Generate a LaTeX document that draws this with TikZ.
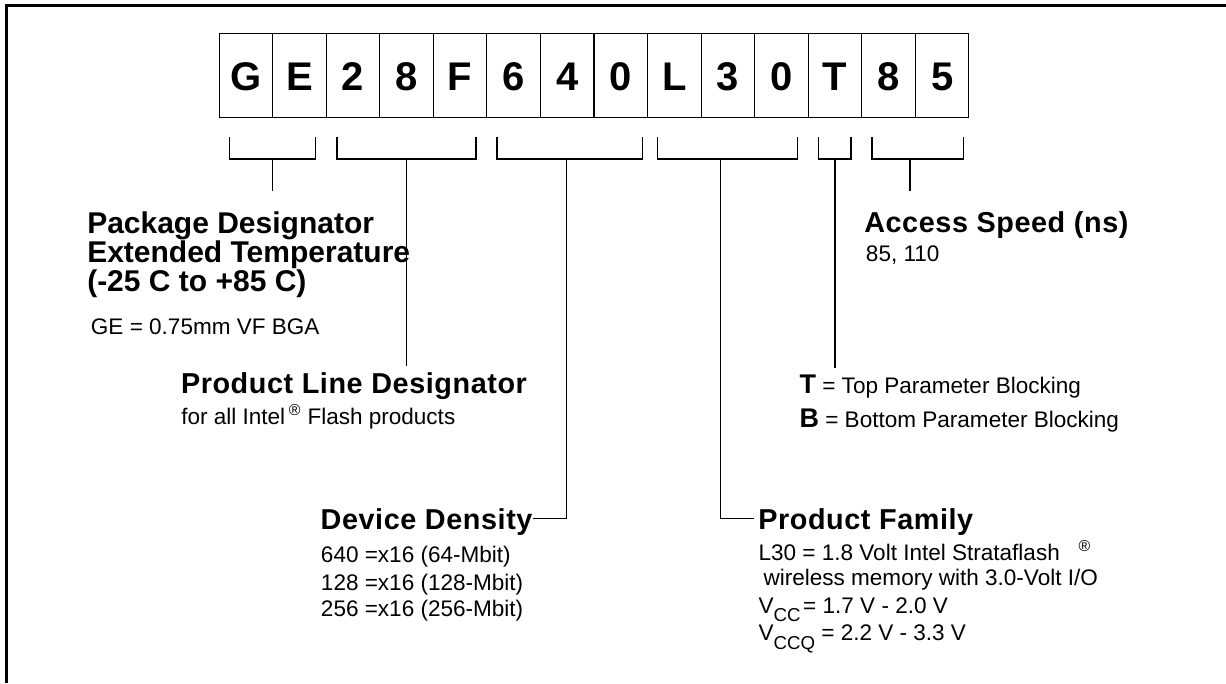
\documentclass[tikz,border=0pt]{standalone}
\usepackage{fontspec}
\setmainfont{Liberation Sans}
\usepackage{tikz}

\newcommand\bigfont{\fontsize{22.5}{24}\selectfont\bfseries}
\newcommand\headfont{\fontsize{21.6}{24}\selectfont\bfseries\addfontfeature{LetterSpace=2}}
\newcommand\subfont{\fontsize{16.9}{20}\selectfont}
\newcommand\keyfont{\fontsize{20.25}{24}\selectfont\bfseries}
\newcommand\lowsub[1]{\raisebox{-6.3pt}{\fontsize{14}{14}\selectfont #1}}

\begin{document}
\begin{tikzpicture}[x=0.75pt,y=-0.75pt,
  cell/.style={draw,line width=0.75pt,minimum width=40.18pt,minimum height=63pt,inner sep=0pt,
    text height=23.1pt,text depth=0pt,font=\fontsize{30}{32}\selectfont\bfseries},
  brk/.style={line width=1pt},
  head/.style={anchor=base west,inner sep=0pt,outer xsep=0pt,outer ysep=5pt,text depth=0pt,font=\headfont},
  big/.style={anchor=base west,inner sep=0pt,font=\bigfont},
  sub/.style={anchor=base west,inner sep=0pt,font=\subfont}]
  \useasboundingbox (0,0) rectangle (1226,683);
  \draw[line width=1.7pt] (6.5,683) -- (6.5,5.5) -- (1226,5.5);
  % part number cells
  \foreach \l [count=\i] in {G,E,2,8,F,6,4,0,L,3,0,T,8,5}{
    \node[cell] (c\i) at ({219+53.57*(\i-0.5)},75.3) {\l};}
  % brackets under the fields
  \foreach \a/\b/\m/\n in {229.7/315.7/272.7/pk,337/476/406.7/pl,497/642.7/566.7/dd,
      657.7/797.7/720.3/pf,818.7/851/835/tb,872/963.3/910/as}{
    \draw[brk] (\a,137.3) -- (\a,159) -- (\b,159) -- (\b,137.3);
    \coordinate (\n) at (\m,159);}
  \coordinate (pkend) at (272.7,190.7);
  \coordinate (asend) at (910,190.7);

  \foreach \yy/\t [count=\i] in {233.3/Package Designator,262.3/Extended Temperature,291.7/(-25 C to +85 C)}{
    \node[big] (pk\i) at (87,\yy) {\t};}
  \node[sub] (ge) at (90.7,334) {GE = 0.75mm VF BGA};

  \node[head] (pline) at (181,393.3) {Product Line Designator};
  \node[sub] (intel) at (181,424) {for all Intel\,\textsuperscript{\textregistered} Flash products};

  \node[head] (dens) at (320.7,529) {Device Density};
  \foreach \yy/\t [count=\i] in {562.3/640 =x16 (64-Mbit),590/128 =x16 (128-Mbit),616.7/256 =x16 (256-Mbit)}{
    \node[sub] (den\i) at (320.7,\yy) {\t};}

  \node[head] (fam) at (758.3,529) {Product Family};
  \node[sub] (l30) at (758.3,560) {L30 = 1.8 Volt Intel Strataflash\hspace{14pt}\textsuperscript{\textregistered}};
  \node[sub] (wless) at (763.3,585) {wireless memory with 3.0-Volt I/O};
  \node[sub] (vcc) at (758.3,613.3) {V\lowsub{CC}\hspace{2pt}= 1.7 V - 2.0 V};
  \node[sub] (vccq) at (758.3,640.7) {V\lowsub{CCQ} = 2.2 V - 3.3 V};

  \node[sub,outer ysep=5pt] (tline) at (799.3,393.3) {{\keyfont T} = Top Parameter Blocking};
  \node[sub] (bline) at (799.3,427) {{\keyfont B} = Bottom Parameter Blocking};

  \node[head] (speed) at (864.3,232.3) {Access Speed (ns)};
  \node[sub] (spval) at (865.7,261.7) {85, 110};

  % leaders
  \draw[brk] (pk) -- (pkend);
  \draw[brk] (pl) -- (pl |- pline.north);
  \draw[brk] (dd) |- (dens.east);
  \draw[brk] (pf) |- ([xshift=-3pt]fam.west);
  \draw[brk] (tb) -- (tb |- tline.north);
  \draw[brk] (as) -- (asend);
\end{tikzpicture}
\end{document}
